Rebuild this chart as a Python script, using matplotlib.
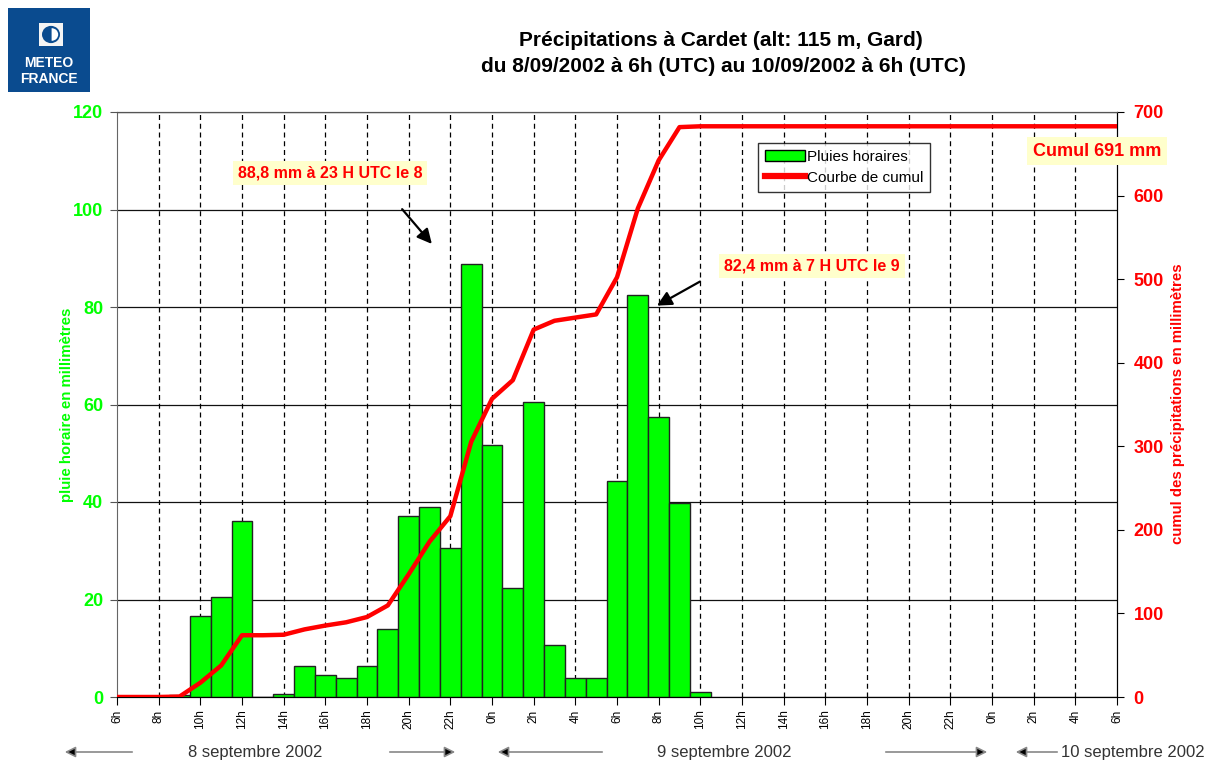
#!/usr/bin/env python3
"""Précipitations horaires et cumul à Cardet, 8-10 septembre 2002."""

import matplotlib

matplotlib.use("Agg")
import matplotlib.pyplot as plt
from matplotlib.lines import Line2D
from matplotlib.patches import Circle, FancyArrowPatch, Patch, Rectangle, Wedge

plt.rcParams["font.family"] = ["Liberation Sans", "DejaVu Sans"]

# heures comptées depuis le 8/09/2002 à 0h UTC
pluie_heures = [9, 10, 11, 12, 13, 14, 15, 16, 17, 18, 19, 20, 21,
                22, 23, 24, 25, 26, 27, 28, 29, 30, 31, 32, 33, 34]
pluie_mm = [0.5, 16.6, 20.6, 36.2, 0.0, 0.6, 6.4, 4.6, 3.9, 6.3, 13.9, 37.2, 39.0,
            30.6, 88.8, 51.6, 22.3, 60.5, 10.6, 3.8, 3.8, 44.4, 82.4, 57.5, 39.8, 1.0]

cumul_heures = list(range(6, 55))
cumul_mm = [0.0, 0.0, 0.0, 0.5, 17.1, 37.7, 73.9, 73.9, 74.5, 80.9, 85.5, 89.4,
            95.7, 109.6, 146.8, 185.8, 216.4, 305.2, 356.8, 379.1, 439.6, 450.2,
            454.0, 457.8, 502.2, 584.6, 642.1, 681.9, 682.9] + [682.9] * 20

tick_heures = list(range(6, 55, 2))
tick_labels = [f"{h % 24}h" for h in tick_heures]

jours = ["8 septembre 2002", "9 septembre 2002", "10 septembre 2002"]

GREEN = "#00ff00"
RED = "#ff0000"
W, H = 1206, 762


def px(x, y):
    return x / W, 1 - y / H


fig = plt.figure(figsize=(W / 100, H / 100), dpi=100)
ax = fig.add_axes([117 / W, 1 - 697 / H, 1000 / W, 585 / H])
ax2 = ax.twinx()

ax.bar(pluie_heures, pluie_mm, width=1.0, color=GREEN, edgecolor="#222222",
       linewidth=1.0, zorder=3)
ax.set_xlim(6, 54)
ax.set_ylim(0, 120)
ax.set_yticks(range(0, 121, 20))
ax.set_xticks(tick_heures)
ax.set_xticklabels(tick_labels, rotation=90, fontsize=8.5)
ax.tick_params(axis="x", length=6, pad=3)
ax.tick_params(axis="y", length=5, pad=5, colors="#555555", labelcolor=GREEN,
               labelsize=13)
for label in ax.get_yticklabels():
    label.set_fontweight("bold")
ax.set_axisbelow(True)
ax.grid(axis="y", color="#111111", linewidth=0.9)
for h in tick_heures[1:-1]:
    ax.axvline(h, color="black", linewidth=0.9, linestyle=(0, (4, 3)), zorder=1)

ax2.plot(cumul_heures, cumul_mm, color=RED, linewidth=3.2,
         solid_joinstyle="round", zorder=4)
ax2.set_ylim(0, 700)
ax2.set_yticks(range(0, 701, 100))
ax2.tick_params(axis="y", length=5, pad=7, labelcolor=RED, labelsize=13)
for label in ax2.get_yticklabels():
    label.set_fontweight("bold")

ax.spines["left"].set_color("#666666")
ax.spines["top"].set_color("#555555")
ax2.spines["left"].set_visible(False)
ax2.spines["top"].set_color("#555555")
ax2.spines["right"].set_color("black")

fig.text(*px(67, 405), "pluie horaire en millimètres", color=GREEN, fontsize=10.8,
         fontweight="bold", rotation=90, ha="center", va="center")
fig.text(*px(1178, 404), "cumul des précipitations en millimètres", color=RED,
         fontsize=10.8, fontweight="bold", rotation=90, ha="center", va="center")

fig.text(*px(721, 40), "Précipitations à Cardet (alt: 115 m, Gard)",
         fontsize=15, fontweight="bold", ha="center", va="center")
fig.text(*px(723, 66), "du 8/09/2002 à 6h (UTC) au 10/09/2002 à 6h (UTC)",
         fontsize=15, fontweight="bold", ha="center", va="center")

# annotations
box = dict(boxstyle="square,pad=0.3", facecolor="#ffffcc", edgecolor="none")
arrow = dict(arrowstyle="-|>", color="black", linewidth=1.6, mutation_scale=22)
fig.text(*px(330, 173), "88,8 mm à 23 H UTC le 8", color=RED, fontsize=11.5,
         fontweight="bold", ha="center", va="center", bbox=box)
fig.text(*px(812, 266), "82,4 mm à 7 H UTC le 9", color=RED, fontsize=11.5,
         fontweight="bold", ha="center", va="center", bbox=box)
fig.text(*px(1097, 151), "Cumul 691 mm", color=RED, fontsize=13,
         fontweight="bold", ha="center", va="center", bbox=box)
ax.annotate("", xy=(21.2, 92.5), xytext=(19.6, 100.5), arrowprops=arrow,
            annotation_clip=False)
ax.annotate("", xy=(31.8, 80.0), xytext=(34.1, 85.5), arrowprops=arrow,
            annotation_clip=False)

handles = [
    Patch(facecolor=GREEN, edgecolor="black", linewidth=1.0),
    Line2D([], [], color=RED, linewidth=4.5),
]
leg = fig.legend(handles, ["Pluies horaires", "Courbe de cumul"],
                 loc="upper left", bbox_to_anchor=px(758, 143), fontsize=11,
                 frameon=True, fancybox=False, borderpad=0.45, labelspacing=0.45,
                 handlelength=2.6, handletextpad=0.15, borderaxespad=0)
leg.get_frame().set_edgecolor("black")
leg.get_frame().set_linewidth(1.0)

# bandeau des jours
for (xc, label) in zip([255, 724, 1133], jours):
    fig.text(*px(xc, 752), label, fontsize=12, color="#333333",
             ha="center", va="center")
for x0, x1 in [(135, 62), (387, 458), (605, 495), (883, 990), (1060, 1013)]:
    fig.patches.append(FancyArrowPatch(
        px(x0, 752), px(x1, 752), transform=fig.transFigure,
        arrowstyle="-|>", mutation_scale=16, facecolor="black",
        edgecolor="#888888", linewidth=1.2))

# logo
fig.patches.append(Rectangle(px(8, 92), 82 / W, 84 / H, transform=fig.transFigure,
                             facecolor="#0a4b8f", edgecolor="none"))
ax_logo = fig.add_axes([39 / W, 1 - 46 / H, 24 / W, 23 / H])
ax_logo.set_zorder(5)
ax_logo.set_xlim(-1, 1)
ax_logo.set_ylim(-1, 1)
ax_logo.axis("off")
ax_logo.add_patch(Rectangle((-1, -1), 2, 2, facecolor="#f4f4f4", edgecolor="none"))
ax_logo.add_patch(Circle((0, 0), 0.75, facecolor="#0a4b8f", edgecolor="none"))
ax_logo.add_patch(Wedge((0.05, 0), 0.55, -90, 90, facecolor="white",
                        edgecolor="none"))
fig.text(*px(49, 63), "METEO", color="white", fontsize=10, fontweight="bold",
         ha="center", va="center")
fig.text(*px(49, 79), "FRANCE", color="white", fontsize=10, fontweight="bold",
         ha="center", va="center")

fig.savefig("out.png", dpi=100)
